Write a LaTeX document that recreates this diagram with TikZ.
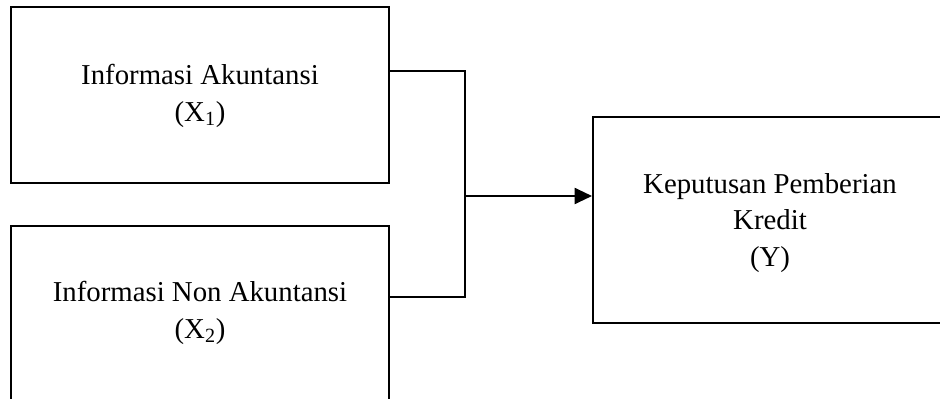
\documentclass[tikz,border=0pt]{standalone}
\usepackage{fontspec}
\setmainfont{Liberation Serif}
\usetikzlibrary{arrows.meta}
\begin{document}
\begin{tikzpicture}[x=0.75pt,y=-0.75pt,
  box/.style={draw=black,line width=1.5pt,align=center,inner sep=0pt,
    font=\fontsize{21.6}{27.2}\selectfont},
  link/.style={draw=black,line width=1.5pt}]
\clip (0,0) rectangle (940,399);
\node[box,minimum width=283.5pt,minimum height=132pt] (top) at (200,95) {};
\node[align=center,font=\fontsize{21.6}{27.2}\selectfont] (toptext) at (200,96)
  {Informasi Akuntansi\\(X\textsubscript{1})};
\node[box,minimum width=283.5pt,minimum height=132pt] (bot) at (200,314) {};
\node[align=center,font=\fontsize{21.6}{27.2}\selectfont] (bottext) at (200,313)
  {Informasi Non Akuntansi\\(X\textsubscript{2})};
\node[box,minimum width=265.5pt,minimum height=154.5pt] (res) at (770,220) {};
\node[align=center,font=\fontsize{21.6}{27.2}\selectfont] (restext) at (770,223)
  {Keputusan Pemberian\\Kredit\\(Y)};
\coordinate (j1) at (465,71);
\coordinate (j2) at (465,297);
\coordinate (j3) at (465,196);
\draw[link] (j1 -| top.east) -- (j1) -- (j2) -- (j2 -| bot.east);
\draw[link,-{Triangle[length=13pt,width=12pt]}] (j3) -- (j3 -| res.west);
\end{tikzpicture}
\end{document}
